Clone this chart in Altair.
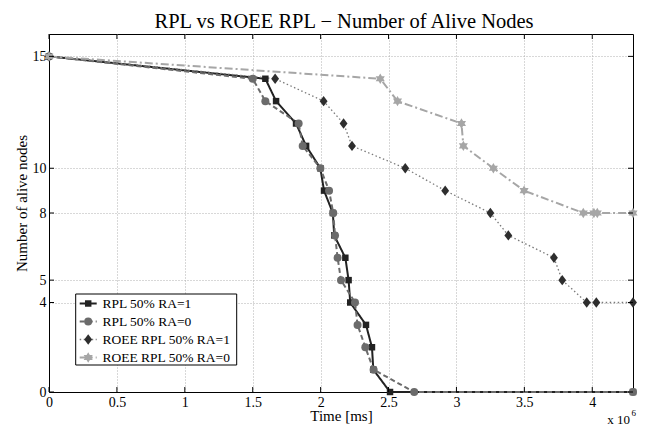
import altair as alt
import pandas as pd

# ---------------- data ----------------
series = ["RPL 50% RA=1", "RPL 50% RA=0", "ROEE RPL 50% RA=1", "ROEE RPL 50% RA=0"]

# time in units of 1e6 ms, number of alive nodes
t_rpl_ra1 = [0, 1.593, 1.672, 1.819, 1.893, 1.998, 2.025, 2.090, 2.100, 2.182, 2.206, 2.218, 2.334, 2.378, 2.388, 2.511, 4.3]
n_rpl_ra1 = [15, 14, 13, 12, 11, 10, 9, 8, 7, 6, 5, 4, 3, 2, 1, 0, 0]

t_rpl_ra0 = [0, 1.500, 1.593, 1.838, 1.868, 1.998, 2.062, 2.093, 2.106, 2.125, 2.150, 2.253, 2.272, 2.329, 2.390, 2.689, 4.3]
n_rpl_ra0 = [15, 14, 13, 12, 11, 10, 9, 8, 7, 6, 5, 4, 3, 2, 1, 0, 0]

t_roee_ra1 = [0, 1.665, 2.022, 2.169, 2.231, 2.623, 2.917, 3.250, 3.382, 3.718, 3.779, 3.959, 4.030, 4.3]
n_roee_ra1 = [15, 14, 13, 12, 11, 10, 9, 8, 7, 6, 5, 4, 4, 4]

t_roee_ra0 = [0, 2.439, 2.566, 3.037, 3.051, 3.272, 3.498, 3.934, 4.012, 4.037, 4.3]
n_roee_ra0 = [15, 14, 13, 12, 11, 10, 9, 8, 8, 8, 8]

x_ticks = [0, 0.5, 1, 1.5, 2, 2.5, 3, 3.5, 4]
y_ticks = [0, 4, 5, 8, 10, 15]

title_text = "RPL vs ROEE RPL \u2212 Number of Alive Nodes"
x_title = "Time [ms]"
y_title = "Number of alive nodes"

# ---------------- tables ----------------
rows = []
for name, ts, ns in zip(series, [t_rpl_ra1, t_rpl_ra0, t_roee_ra1, t_roee_ra0],
                        [n_rpl_ra1, n_rpl_ra0, n_roee_ra1, n_roee_ra0]):
    for i, (t, n) in enumerate(zip(ts, ns)):
        rows.append({"series": name, "t": t, "n": n, "idx": i})
df = pd.DataFrame(rows)
legend_df = pd.DataFrame({"series": series})
xt_df = pd.DataFrame({"t": x_ticks})
yt_df = pd.DataFrame({"n": y_ticks})
one = pd.DataFrame({"k": [0]})

# ---------------- styles ----------------
W, H = 584, 358
FONT = "Liberation Serif"
diamond = "M0,-1L0.75,0L0,1L-0.75,0Z"
star = "M0,-1L0.866,0.5L-0.866,0.5Z M0,1L-0.866,-0.5L0.866,-0.5Z"

line_col = alt.Scale(domain=series, range=["#222222", "#6b6b6b", "#7a7a7a", "#a6a6a6"])
mark_col = alt.Scale(domain=series, range=["#222222", "#6b6b6b", "#2e2e2e", "#a6a6a6"])
dash_sc = alt.Scale(domain=series, range=[[1, 0], [5, 3], [1.5, 2.5], [8, 3, 2, 3]])
width_sc = alt.Scale(type="ordinal", domain=series, range=[2, 2, 1.3, 2])
shape_sc = alt.Scale(domain=series, range=["square", "circle", diamond, star])
size_sc = alt.Scale(type="ordinal", domain=series, range=[42, 64, 110, 110])

xscale = alt.Scale(domain=[0, 4.3], nice=False, zero=False)
yscale = alt.Scale(domain=[0, 16], nice=False, zero=False)

xaxis = alt.Axis(orient="bottom", values=x_ticks, format="~g", grid=True, gridColor="#b0b0b0",
                 gridDash=[1, 2], gridWidth=1, ticks=False, domainColor="black", domainWidth=1,
                 labelFont=FONT, labelFontSize=14, labelColor="black", labelPadding=3,
                 labelFlush=False, labelOverlap=False,
                 title=x_title, titleFont=FONT, titleFontSize=15, titleFontWeight="normal",
                 titleColor="black", titleBaseline="alphabetic", titleY=28.5)
yaxis = alt.Axis(orient="left", values=y_ticks, grid=True, gridColor="#b0b0b0", gridDash=[1, 2],
                 gridWidth=1, ticks=False, domainColor="black", domainWidth=1,
                 labelFont=FONT, labelFontSize=14, labelColor="black", labelPadding=3,
                 labelFlush=False, labelOverlap=False, labelBaseline="middle",
                 title=y_title, titleFont=FONT, titleFontSize=15, titleFontWeight="normal",
                 titleColor="black", titleBaseline="alphabetic", titleAngle=270,
                 titleX=-22.5, titleY=169)

X = lambda f: alt.X(f, scale=xscale, axis=xaxis)
Y = lambda f: alt.Y(f, scale=yscale, axis=yaxis)

base = alt.Chart(df)
lines = base.mark_line().encode(
    x=X("t:Q"), y=Y("n:Q"),
    stroke=alt.Stroke("series:N", scale=line_col, legend=None),
    strokeDash=alt.StrokeDash("series:N", scale=dash_sc, legend=None),
    strokeWidth=alt.StrokeWidth("series:N", scale=width_sc, legend=None),
    order="idx:Q",
)
points = base.mark_point(filled=True, opacity=1).encode(
    x=X("t:Q"), y=Y("n:Q"),
    color=alt.Color("series:N", scale=mark_col, legend=None),
    shape=alt.Shape("series:N", scale=shape_sc, legend=None),
    size=alt.Size("series:N", scale=size_sc, legend=None),
)

tick_len = 5
ticks_b = alt.Chart(xt_df).mark_rule(color="black", strokeWidth=1).encode(
    x=X("t:Q"), y=alt.value(H), y2=alt.value(H - tick_len))
ticks_t = alt.Chart(xt_df).mark_rule(color="black", strokeWidth=1).encode(
    x=X("t:Q"), y=alt.value(0), y2=alt.value(tick_len))
ticks_l = alt.Chart(yt_df).mark_rule(color="black", strokeWidth=1).encode(
    y=Y("n:Q"), x=alt.value(0), x2=alt.value(tick_len))
ticks_r = alt.Chart(yt_df).mark_rule(color="black", strokeWidth=1).encode(
    y=Y("n:Q"), x=alt.value(W), x2=alt.value(W - tick_len))

exp_base = alt.Chart(one).mark_text(font=FONT, fontSize=13, color="black", align="right",
                                    baseline="alphabetic").encode(
    x=alt.value(581), y=alt.value(390), text=alt.value("x 10"))
exp_sup = alt.Chart(one).mark_text(font=FONT, fontSize=9, color="black", align="left",
                                   baseline="alphabetic").encode(
    x=alt.value(582.5), y=alt.value(382), text=alt.value("6"))

# ---------------- legend (one row per series) ----------------
row_y = [269.5, 287.5, 305.5, 323.5]
leg_box = alt.Chart(one).mark_rect(fill="white", stroke="black", strokeWidth=1).encode(
    x=alt.value(26.7), x2=alt.value(187.7), y=alt.value(260), y2=alt.value(331))
leg_layers = [leg_box]
for s, yy in zip(series, row_y):
    lb = alt.Chart(legend_df).transform_filter(alt.datum.series == s)
    leg_layers.append(lb.mark_rule().encode(
        x=alt.value(30.7), x2=alt.value(47.7), y=alt.value(yy),
        stroke=alt.Stroke("series:N", scale=line_col, legend=None),
        strokeDash=alt.StrokeDash("series:N", scale=dash_sc, legend=None),
        strokeWidth=alt.StrokeWidth("series:N", scale=width_sc, legend=None)))
    leg_layers.append(lb.mark_point(filled=True, opacity=1).encode(
        x=alt.value(39.2), y=alt.value(yy),
        color=alt.Color("series:N", scale=mark_col, legend=None),
        shape=alt.Shape("series:N", scale=shape_sc, legend=None),
        size=alt.Size("series:N", scale=size_sc, legend=None)))
    leg_layers.append(lb.mark_text(font=FONT, fontSize=13.5, color="black", align="left",
                                   baseline="middle").encode(
        x=alt.value(53.4), y=alt.value(yy), text="series:N"))

chart = alt.layer(lines, points, ticks_b, ticks_t, ticks_l, ticks_r, exp_base, exp_sup,
                  *leg_layers).properties(
    width=W, height=H,
    autosize=alt.AutoSizeParams(type="none"),
    padding={"left": 41, "top": 26, "right": 14, "bottom": 36},
    title=alt.TitleParams(text=title_text, font=FONT, fontSize=20.5, fontWeight="normal",
                          color="black", anchor="middle", frame="group", offset=7,
                          baseline="alphabetic", dx=3, dy=22),
    background="white",
).configure_view(stroke="black", strokeWidth=1)

chart.save("out.html", embed_options={"renderer": "svg", "actions": False})
